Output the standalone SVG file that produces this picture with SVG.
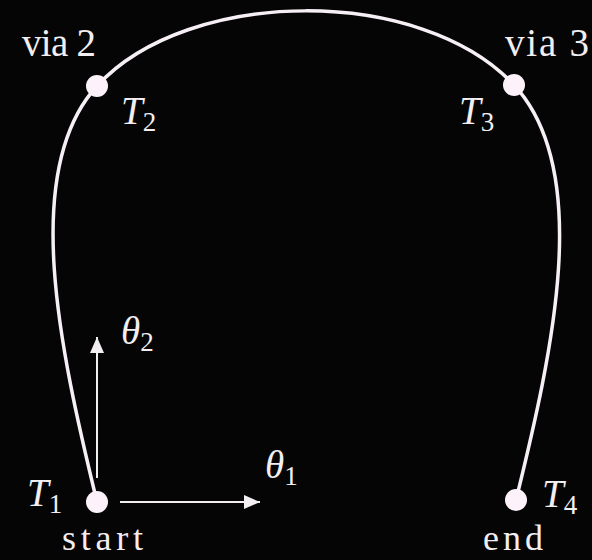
<svg xmlns="http://www.w3.org/2000/svg" width="592" height="560" viewBox="0 0 592 560">
<style>
.txt{font-family:"Liberation Serif","Times New Roman",serif;font-size:39px;fill:#f2eef2}
.lbl{font-size:36px}
.it{font-style:italic}
.sub{font-size:27px;font-style:normal}
.curve{fill:none;stroke:#f6f0f6;stroke-width:3.5}
.ax{fill:none;stroke:#f2eef2;stroke-width:2}
.dot{fill:#fdf2fa}
</style>
<defs>
<marker id="ah" viewBox="0 0 16 14" refX="16" refY="7" markerWidth="16" markerHeight="14" markerUnits="userSpaceOnUse" orient="auto">
<path d="M0,0 L16,7 L0,14 Z" fill="#f2eef2"/>
</marker>
</defs>
<rect width="592" height="560" fill="#050505"/>
<g id="connectors">
<path class="curve" d="M97,502 C60,350 20,170 97,86 C189,-14 422,-14 514,85 C593,170 553,350 516,500"/>
<line class="ax" x1="97" y1="478" x2="97" y2="337" marker-end="url(#ah)"/>
<line class="ax" x1="120" y1="502" x2="260" y2="502" marker-end="url(#ah)"/>
</g>
<g id="start">
<circle class="dot" cx="97" cy="502" r="11"/>
<text class="txt lbl" x="62" y="550" textLength="81" lengthAdjust="spacing">start</text>
<text class="txt it" x="27" y="506">T<tspan class="sub" dy="7">1</tspan></text>
</g>
<g id="via2">
<circle class="dot" cx="97" cy="86" r="11"/>
<text class="txt" x="22" y="56" textLength="74" lengthAdjust="spacing">via 2</text>
<text class="txt it" x="121" y="124">T<tspan class="sub" dy="7">2</tspan></text>
</g>
<g id="via3">
<circle class="dot" cx="514" cy="85" r="11"/>
<text class="txt" x="505" y="56" textLength="84" lengthAdjust="spacing">via 3</text>
<text class="txt it" x="459" y="124">T<tspan class="sub" dy="7">3</tspan></text>
</g>
<g id="end">
<circle class="dot" cx="516" cy="500" r="11"/>
<text class="txt lbl" x="483" y="550" textLength="60" lengthAdjust="spacing">end</text>
<text class="txt it" x="542" y="507">T<tspan class="sub" dy="7">4</tspan></text>
</g>
<g id="theta2">
<text class="txt it" x="121" y="344">θ<tspan class="sub" dy="7">2</tspan></text>
</g>
<g id="theta1">
<text class="txt it" x="265" y="478">θ<tspan class="sub" dy="7">1</tspan></text>
</g>
</svg>
